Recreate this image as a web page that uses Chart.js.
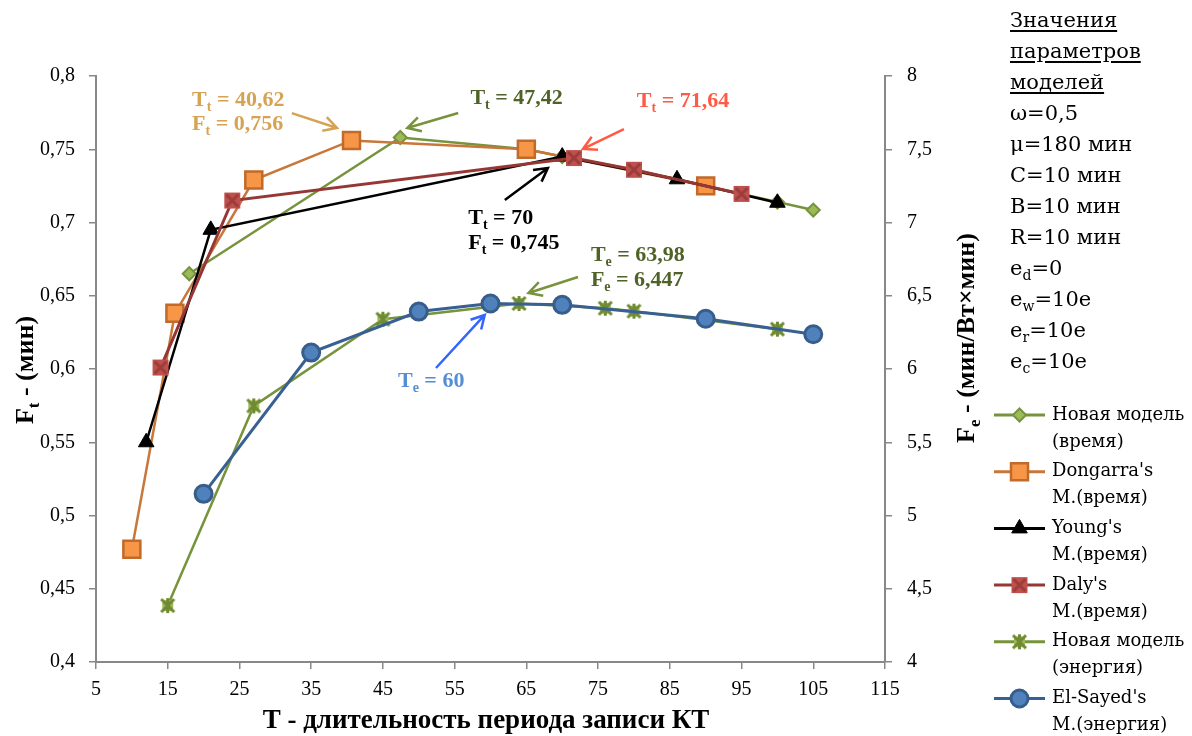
<!DOCTYPE html>
<html>
<head>
<meta charset="utf-8">
<script src="https://cdn.jsdelivr.net/npm/chart.js@4.4.1/dist/chart.umd.min.js"></script>
<style>
  body { margin: 0; background: #fff; }
  #wrap { position: relative; width: 1192px; height: 736px; }
  #params {
    position: absolute; left: 1010px; top: 5px;
    font-family: "DejaVu Serif", serif; font-size: 21px; line-height: 31px; color: #000;
  }
  #params u { text-decoration-thickness: 1.5px; text-underline-offset: 3px; }
  #params sub { font-size: 14px; vertical-align: -5px; line-height: 0; }
</style>
</head>
<body>
<div id="wrap">
  <canvas id="chart" width="1192" height="736"></canvas>
  <div id="params">
    <u>Значения</u><br><u>параметров</u><br><u>моделей</u><br>
    ω=0,5<br>μ=180 мин<br>C=10 мин<br>B=10 мин<br>R=10 мин<br>
    e<sub>d</sub>=0<br>e<sub>w</sub>=10e<br>e<sub>r</sub>=10e<br>e<sub>c</sub>=10e
  </div>
</div>
<script>
// tick values
const xTicks = [5, 15, 25, 35, 45, 55, 65, 75, 85, 95, 105, 115];
const leftTicks = [0.4, 0.45, 0.5, 0.55, 0.6, 0.65, 0.7, 0.75, 0.8];
const rightTicks = [4, 4.5, 5, 5.5, 6, 6.5, 7, 7.5, 8];

// time models (left axis)
const newTimeT = [18, 47.42, 65, 70, 80, 90, 100, 105];
const newTimeF = [0.665, 0.758, 0.750, 0.745, 0.736, 0.725, 0.714, 0.7085];
const dongarraT = [10, 16, 27, 40.62, 65, 90];
const dongarraF = [0.477, 0.638, 0.729, 0.756, 0.750, 0.725];
const youngT = [12, 21, 70, 86, 100];
const youngF = [0.550, 0.695, 0.745, 0.7295, 0.7135];
const dalyT = [14, 24, 71.64, 80, 95];
const dalyF = [0.601, 0.715, 0.744, 0.736, 0.7195];

// energy models (right axis)
const newEnergyT = [15, 27, 45, 63.98, 76, 80, 100];
const newEnergyF = [4.385, 5.748, 6.340, 6.447, 6.415, 6.395, 6.272];
const elSayedT = [20, 35, 50, 60, 70, 90, 105];
const elSayedF = [5.148, 6.112, 6.392, 6.447, 6.438, 6.343, 6.237];

const legendLabels = [
  ['Новая модель', '(время)'],
  ["Dongarra's", 'М.(время)'],
  ["Young's", 'М.(время)'],
  ["Daly's", 'М.(время)'],
  ['Новая модель', '(энергия)'],
  ["El-Sayed's", 'М.(энергия)']
];

const toXY = (xs, ys) => xs.map((x, i) => ({ x: x, y: ys[i] }));
const fmt = v => String(v).replace('.', ',');

function xMarker(size, fill, stroke) {
  const c = document.createElement('canvas');
  c.width = c.height = size;
  const g = c.getContext('2d');
  g.fillStyle = fill;
  g.fillRect(1, 1, size - 2, size - 2);
  g.strokeStyle = stroke;
  g.lineWidth = 3;
  g.beginPath();
  g.moveTo(3, 3); g.lineTo(size - 3, size - 3);
  g.moveTo(size - 3, 3); g.lineTo(3, size - 3);
  g.stroke();
  return c;
}

function starMarker(size, fill, stroke) {
  const c = document.createElement('canvas');
  c.width = c.height = size;
  const g = c.getContext('2d');
  g.fillStyle = fill;
  g.fillRect(3, 3, size - 6, size - 6);
  g.strokeStyle = stroke;
  g.lineWidth = 3;
  g.beginPath();
  g.moveTo(2, 2); g.lineTo(size - 2, size - 2);
  g.moveTo(size - 2, 2); g.lineTo(2, size - 2);
  g.moveTo(size / 2, 1); g.lineTo(size / 2, size - 1);
  g.stroke();
  return c;
}

const dalyMark = xMarker(18, '#C0504D', '#9B3D3A');
const starMark = starMarker(17, '#9BBB59', '#6F8A32');

const datasets = [
  {
    label: 'Новая модель (время)', data: toXY(newTimeT, newTimeF), yAxisID: 'y', order: 6,
    borderColor: '#77933C', borderWidth: 2.5, pointStyle: 'rectRot', pointRadius: 6.5,
    pointBackgroundColor: '#9BBB59', pointBorderColor: '#77933C', pointBorderWidth: 2
  },
  {
    label: "Dongarra's М.(время)", data: toXY(dongarraT, dongarraF), yAxisID: 'y', order: 5,
    borderColor: '#C8763A', borderWidth: 2.5, pointStyle: 'rect', pointRadius: 12,
    pointBackgroundColor: '#F79646', pointBorderColor: '#C06A2B', pointBorderWidth: 2.5
  },
  {
    label: "Young's М.(время)", data: toXY(youngT, youngF), yAxisID: 'y', order: 4,
    borderColor: '#000000', borderWidth: 2.5, pointStyle: 'triangle', pointRadius: 9,
    pointBackgroundColor: '#000000', pointBorderColor: '#000000', pointBorderWidth: 1
  },
  {
    label: "Daly's М.(время)", data: toXY(dalyT, dalyF), yAxisID: 'y', order: 3,
    borderColor: '#953735', borderWidth: 3, pointStyle: dalyMark, pointRadius: 9
  },
  {
    label: 'Новая модель (энергия)', data: toXY(newEnergyT, newEnergyF), yAxisID: 'y2', order: 2,
    borderColor: '#77933C', borderWidth: 2.5, pointStyle: starMark, pointRadius: 9
  },
  {
    label: "El-Sayed's М.(энергия)", data: toXY(elSayedT, elSayedF), yAxisID: 'y2', order: 1,
    borderColor: '#386092', borderWidth: 3, pointStyle: 'circle', pointRadius: 8.5,
    pointBackgroundColor: '#4F81BD', pointBorderColor: '#385D8A', pointBorderWidth: 3
  }
];

// annotations: text anchored in data units (T, left axis)
const notes = [
  { lines: [['T', 't', ' = 40,62'], ['F', 't', ' = 0,756']], x: 18.4, y: [0.7843, 0.7679],
    color: '#D6A354', arrowColor: '#D6A354', arrow: [32.3, 0.7747, 38.6, 0.7645] },
  { lines: [['T', 't', ' = 47,42']], x: 57.2, y: [0.7857],
    color: '#4F6228', arrowColor: '#77933C', arrow: [55.5, 0.7747, 48.4, 0.7645] },
  { lines: [['T', 't', ' = 71,64']], x: 80.4, y: [0.7836],
    color: '#FF5A45', arrowColor: '#FF5A45', arrow: [78.6, 0.7638, 72.9, 0.7502] },
  { lines: [['T', 't', ' = 70'], ['F', 't', ' = 0,745']], x: 56.9, y: [0.7038, 0.6867],
    color: '#000000', arrowColor: '#000000', arrow: [62.0, 0.7154, 68.0, 0.7372] },
  { lines: [['T', 'e', ' = 63,98'], ['F', 'e', ' = 6,447']], x: 74.0, y: [0.6785, 0.6614],
    color: '#4F6228', arrowColor: '#77933C', arrow: [72.2, 0.6628, 65.3, 0.6519] },
  { lines: [['T', 'e', ' = 60']], x: 47.1, y: [0.5925],
    color: '#558ED5', arrowColor: '#3366FF', arrow: [52.4, 0.6007, 59.2, 0.6369] }
];

const SERIF = '"Liberation Serif", serif';

function richWidth(ctx, parts, size) {
  ctx.font = 'bold ' + size + 'px ' + SERIF;
  let w = ctx.measureText(parts[0]).width + ctx.measureText(parts[2]).width;
  ctx.font = 'bold ' + Math.round(size * 0.65) + 'px ' + SERIF;
  return w + ctx.measureText(parts[1]).width;
}

function drawRich(ctx, parts, x, baseline, size) {
  ctx.textAlign = 'left';
  ctx.textBaseline = 'alphabetic';
  ctx.font = 'bold ' + size + 'px ' + SERIF;
  ctx.fillText(parts[0], x, baseline);
  x += ctx.measureText(parts[0]).width;
  ctx.font = 'bold ' + Math.round(size * 0.65) + 'px ' + SERIF;
  ctx.fillText(parts[1], x, baseline + size * 0.22);
  x += ctx.measureText(parts[1]).width;
  ctx.font = 'bold ' + size + 'px ' + SERIF;
  ctx.fillText(parts[2], x, baseline);
}

function drawArrow(ctx, x1, y1, x2, y2, color) {
  const a = Math.atan2(y2 - y1, x2 - x1);
  const len = 15, spread = 0.5;
  ctx.strokeStyle = color;
  ctx.lineWidth = 2.5;
  ctx.lineCap = 'butt';
  ctx.beginPath();
  ctx.moveTo(x1, y1); ctx.lineTo(x2, y2);
  ctx.moveTo(x2 - len * Math.cos(a - spread), y2 - len * Math.sin(a - spread));
  ctx.lineTo(x2, y2);
  ctx.lineTo(x2 - len * Math.cos(a + spread), y2 - len * Math.sin(a + spread));
  ctx.stroke();
}

function drawMarker(ctx, ds, x, y) {
  const st = ds.pointStyle, r = ds.pointRadius;
  if (st instanceof HTMLCanvasElement) {
    ctx.drawImage(st, x - st.width / 2, y - st.height / 2);
    return;
  }
  ctx.fillStyle = ds.pointBackgroundColor;
  ctx.strokeStyle = ds.pointBorderColor;
  ctx.lineWidth = ds.pointBorderWidth;
  ctx.beginPath();
  if (st === 'circle') {
    ctx.arc(x, y, r, 0, Math.PI * 2);
  } else if (st === 'rect') {
    const s = r * Math.SQRT1_2;
    ctx.rect(x - s, y - s, 2 * s, 2 * s);
  } else if (st === 'rectRot') {
    ctx.moveTo(x, y - r); ctx.lineTo(x + r, y); ctx.lineTo(x, y + r); ctx.lineTo(x - r, y); ctx.closePath();
  } else if (st === 'triangle') {
    ctx.moveTo(x, y - r);
    ctx.lineTo(x + r * Math.cos(Math.PI / 6), y + r * 0.5);
    ctx.lineTo(x - r * Math.cos(Math.PI / 6), y + r * 0.5);
    ctx.closePath();
  }
  ctx.fill();
  if (ds.pointBorderWidth > 0) ctx.stroke();
}

const decorPlugin = {
  id: 'decor',
  afterDraw(chart) {
    const ctx = chart.ctx;
    const xs = chart.scales.x, yl = chart.scales.y;
    ctx.save();

    // annotations with arrows
    notes.forEach(n => {
      const a = n.arrow;
      drawArrow(ctx, xs.getPixelForValue(a[0]), yl.getPixelForValue(a[1]),
        xs.getPixelForValue(a[2]), yl.getPixelForValue(a[3]), n.arrowColor);
      ctx.fillStyle = n.color;
      n.lines.forEach((parts, i) => {
        drawRich(ctx, parts, xs.getPixelForValue(n.x), yl.getPixelForValue(n.y[i]) + 7, 22);
      });
    });

    // axis titles
    ctx.fillStyle = '#000';
    const tSize = 26;
    const leftTitle = ['F', 't', ' - (мин)'];
    ctx.save();
    ctx.translate(24, 370);
    ctx.rotate(-Math.PI / 2);
    drawRich(ctx, leftTitle, -richWidth(ctx, leftTitle, tSize) / 2, 9, tSize);
    ctx.restore();

    const rightTitle = ['F', 'e', ' - (мин/Вт×мин)'];
    ctx.save();
    ctx.translate(965, 338);
    ctx.rotate(-Math.PI / 2);
    drawRich(ctx, rightTitle, -richWidth(ctx, rightTitle, tSize) / 2, 9, tSize);
    ctx.restore();

    ctx.font = 'bold 27px ' + SERIF;
    ctx.textAlign = 'center';
    ctx.textBaseline = 'middle';
    ctx.fillText('T - длительность периода записи КТ', 486, 721);

    // legend
    chart.data.datasets.forEach((ds, i) => {
      const y = 415 + i * 56.7;
      ctx.strokeStyle = ds.borderColor;
      ctx.lineWidth = 3;
      ctx.beginPath();
      ctx.moveTo(994, y); ctx.lineTo(1045, y);
      ctx.stroke();
      drawMarker(ctx, ds, 1019.5, y);
      ctx.fillStyle = '#000';
      ctx.font = '18px "DejaVu Serif", serif';
      ctx.textAlign = 'left';
      ctx.textBaseline = 'middle';
      ctx.fillText(legendLabels[i][0], 1052, y);
      ctx.fillText(legendLabels[i][1], 1052, y + 27);
    });
    ctx.restore();
  }
};

const axisColor = '#888888';
const tickFont = { family: SERIF, size: 20 };

function axisGrid() {
  return { display: true, drawOnChartArea: false, drawTicks: true, tickLength: 7, color: axisColor, lineWidth: 1.5 };
}

new Chart(document.getElementById('chart'), {
  type: 'line',
  data: { datasets: datasets },
  options: {
    responsive: false,
    animation: false,
    layout: { padding: { top: 76, left: 0, right: 0, bottom: 0 } },
    elements: { line: { tension: 0, fill: false } },
    plugins: { legend: { display: false }, tooltip: { enabled: false } },
    scales: {
      x: {
        type: 'linear', position: 'bottom', min: 5, max: 115,
        afterBuildTicks: s => { s.ticks = xTicks.map(v => ({ value: v })); },
        afterFit: s => { s.height = 74; },
        grid: axisGrid(),
        border: { display: true, color: axisColor, width: 2 },
        ticks: { font: tickFont, color: '#000', padding: 9, maxRotation: 0, callback: fmt }
      },
      y: {
        type: 'linear', position: 'left', min: 0.4, max: 0.8,
        afterBuildTicks: s => { s.ticks = leftTicks.map(v => ({ value: v })); },
        afterFit: s => { s.width = 96; },
        grid: axisGrid(),
        border: { display: true, color: axisColor, width: 2 },
        ticks: { font: tickFont, color: '#000', padding: 14, callback: fmt }
      },
      y2: {
        type: 'linear', position: 'right', min: 4, max: 8,
        afterBuildTicks: s => { s.ticks = rightTicks.map(v => ({ value: v })); },
        afterFit: s => { s.width = 307; },
        grid: axisGrid(),
        border: { display: true, color: axisColor, width: 2 },
        ticks: { font: tickFont, color: '#000', padding: 15, callback: fmt }
      }
    }
  },
  plugins: [decorPlugin]
});
</script>
</body>
</html>
